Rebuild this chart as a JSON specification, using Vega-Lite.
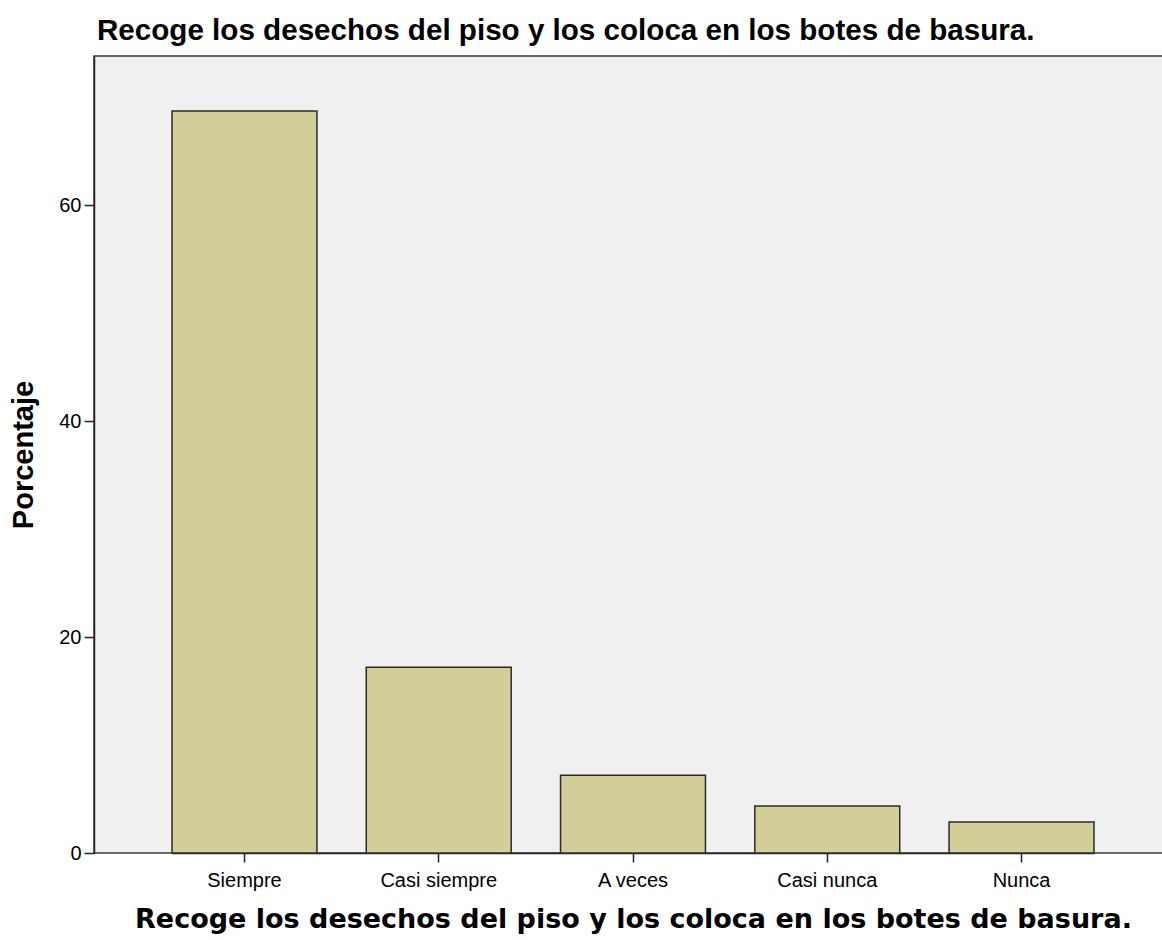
{
  "$schema": "https://vega.github.io/schema/vega-lite/v6.json",
  "autosize": "none",
  "padding": {"left": 94, "top": 56, "right": 0, "bottom": 87},
  "width": 1071,
  "height": 797,
  "background": "white",
  "config": {
    "view": {"fill": "#F0F0F0", "stroke": "#3a3a3a", "strokeWidth": 1.5},
    "font": "Liberation Sans"
  },
  "title": {
    "text": "Recoge los desechos del piso y los coloca en los botes de basura.",
    "anchor": "start",
    "frame": "group",
    "font": "Liberation Sans",
    "fontSize": 29.6,
    "fontWeight": "bold",
    "color": "black",
    "offset": 9,
    "dx": 3
  },
  "data": {
    "values": [
      {"categoria": "Siempre", "porcentaje": 68.7},
      {"categoria": "Casi siempre", "porcentaje": 17.2},
      {"categoria": "A veces", "porcentaje": 7.2},
      {"categoria": "Casi nunca", "porcentaje": 4.35},
      {"categoria": "Nunca", "porcentaje": 2.87}
    ]
  },
  "mark": {"type": "bar", "fill": "#D3CE97", "stroke": "#2b2b2b", "strokeWidth": 1.5},
  "encoding": {
    "x": {
      "field": "categoria",
      "type": "nominal",
      "sort": null,
      "scale": {"range": [78, 1000], "paddingInner": 0.254, "paddingOuter": 0},
      "axis": {
        "title": "Recoge los desechos del piso y los coloca en los botes de basura.",
        "titleFont": "DejaVu Sans",
        "titleFontWeight": "bold",
        "titleFontSize": 27,
        "titleColor": "black",
        "titlePadding": 16,
        "titleAnchor": "middle",
        "labelFont": "Liberation Sans",
        "labelFontSize": 20,
        "labelColor": "black",
        "labelAngle": 0,
        "labelPadding": 8,
        "tickSize": 9,
        "tickColor": "#222",
        "domainColor": "#222",
        "domainWidth": 1.5,
        "tickWidth": 1.5
      }
    },
    "y": {
      "field": "porcentaje",
      "type": "quantitative",
      "scale": {"domain": [0, 73.8], "nice": false},
      "axis": {
        "title": "Porcentaje",
        "values": [0, 20, 40, 60],
        "grid": false,
        "titleFont": "Liberation Sans",
        "titleFontWeight": "bold",
        "titleFontSize": 29,
        "titleColor": "black",
        "titlePadding": 20,
        "labelFont": "Liberation Sans",
        "labelFontSize": 20,
        "labelColor": "black",
        "labelPadding": 3,
        "tickSize": 10,
        "tickColor": "#222",
        "domainColor": "#222",
        "domainWidth": 1.5,
        "tickWidth": 1.5
      }
    }
  }
}
